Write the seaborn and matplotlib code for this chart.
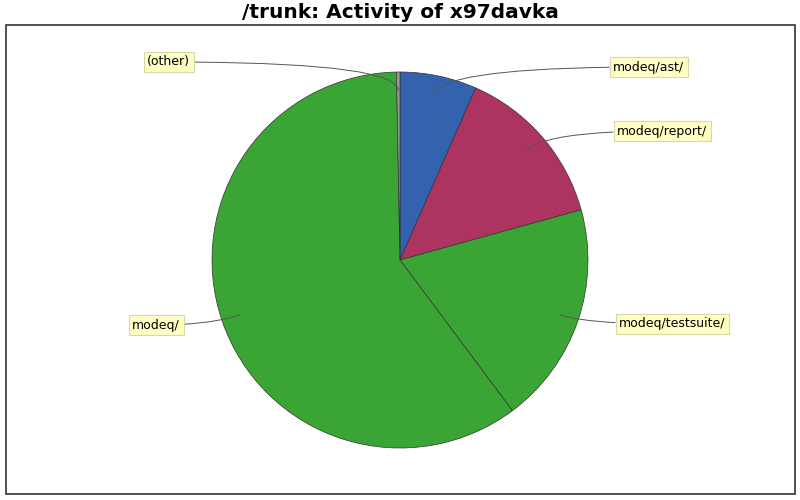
import numpy as np
import matplotlib
matplotlib.use('Agg')
import matplotlib.pyplot as plt
import matplotlib.patches as mpatches
import seaborn as sns

# Data: share of activity per directory (clockwise from 12 o'clock)
labels = ['modeq/ast/', 'modeq/report/', 'modeq/testsuite/', 'modeq/', '(other)']
values = [6.6, 14.1, 19.1, 59.9, 0.3]
colors = ['#3363AF', '#AD3361', '#3AA534', '#3AA534', '#999999']

# label box positions (pixels, y up) and alignment
label_pos = [(613, 433), (617, 369), (619, 176), (180, 175), (190, 438)]
label_ha = ['left', 'left', 'left', 'right', 'right']

sns.set_theme(style='white')
plt.rcParams['font.family'] = ['DejaVu Sans']

fig = plt.figure(figsize=(8, 5), dpi=100)
ax = fig.add_axes([0, 0, 1, 1])

cx, cy, R = 400, 240, 188
wedges, _ = ax.pie(values, colors=colors, startangle=90, counterclock=False,
                   center=(cx, cy), radius=R, frame=True,
                   wedgeprops=dict(edgecolor='#333333', linewidth=0.5))
ax.set_xlim(0, 800)
ax.set_ylim(0, 500)
ax.axis('off')

# frame around plot area
ax.add_patch(mpatches.Rectangle((5.5, 6), 789.5, 469, fill=False,
                                edgecolor='#333333', linewidth=1.2))

# labels with curved leader lines
cum = np.cumsum([0] + values)
for i, lab in enumerate(labels):
    mid = (cum[i] + cum[i + 1]) / 2 / 100 * 360
    ang = 90 - mid
    ax_pt = (cx + 0.9 * R * np.cos(np.radians(ang)), cy + 0.9 * R * np.sin(np.radians(ang)))
    ax.annotate(lab, xy=ax_pt, xytext=label_pos[i], ha=label_ha[i], va='center',
                fontsize=9, color='black',
                bbox=dict(boxstyle='square,pad=0.28', facecolor='#FFFFC4',
                          edgecolor='#D8D8A8', linewidth=0.8),
                arrowprops=dict(arrowstyle='-', color='#555555', linewidth=0.7,
                                shrinkA=0, shrinkB=0,
                                connectionstyle='angle3,angleA=0,angleB=%.1f' % ang))

fig.text(0.5, 1 - 13 / 500, '/trunk: Activity of x97davka', ha='center', va='center',
         fontsize=14.5, fontweight='bold', color='black')

fig.savefig('out.png', dpi=100)
